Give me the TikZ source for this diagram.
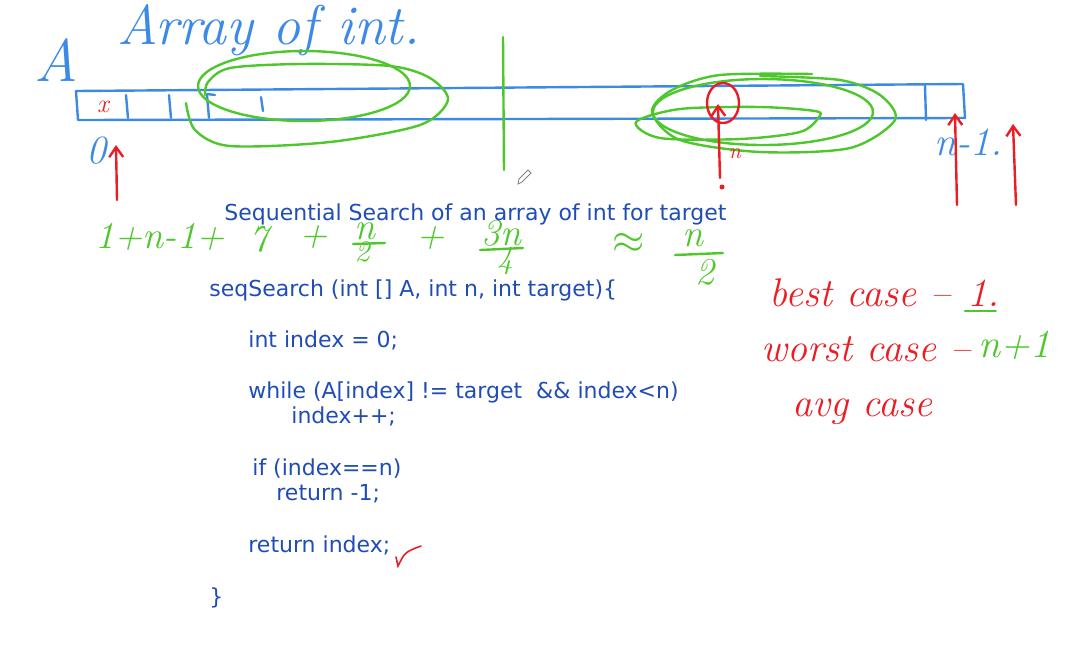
\documentclass[tikz,border=0pt]{standalone}
\usepackage{amsmath}
\usepackage{fontspec}
\newfontfamily\codefont{DejaVu Sans}
\usetikzlibrary{arrows.meta,positioning,calc}
\definecolor{codeblue}{HTML}{1F4DB5}
\definecolor{penblue}{HTML}{3D8AE6}
\definecolor{pengreen}{HTML}{4DC72C}
\definecolor{penred}{HTML}{EC1C24}
\tikzset{
  pen/.style={line width=1.2pt,line cap=round,line join=round},
  code/.style={anchor=base west,inner sep=0pt,text=codeblue,
    font=\codefont\fontsize{11}{13}\selectfont},
  hand/.style={inner sep=0pt,font=\itshape\fontsize{20}{20}\selectfont},
  count/.style={hand,text=pengreen,font=\itshape\fontsize{19}{19}\selectfont},
}

\begin{document}
\begin{tikzpicture}[x=0.5pt,y=-0.5pt,>={Straight Barb[length=5pt,width=7pt]}]
  \useasboundingbox (0,0) rectangle (1078,655);

  % the array A
  \draw[pen,penblue] (76,91) -- (963,84) -- (965,118) -- (78,120) -- cycle;
  \foreach \x in {126,169,207} \draw[pen,penblue] (\x,95) -- (\x+2,118);
  \draw[pen,penblue] (925,85) -- (926,120);
  \draw[pen,penblue] (207,94) -- (215,95);
  \draw[pen,penblue] (261,97) -- (263,111);
  \node[hand,text=penred,font=\itshape\fontsize{13}{13}\selectfont] (x0) at (103,107) {x};
  \node[hand,text=penblue,font=\itshape\fontsize{30}{30}\selectfont] (A) at (56,60) {A};
  \node[hand,text=penblue,anchor=base west,font=\itshape\fontsize{28}{28}\selectfont] (title) at (117,44) {Array of int.};
  \node[hand,text=penblue] (zero) at (96,151) {0};
  \node[hand,text=penblue] (last) at (968,142) {n-1.};

  % middle split
  \draw[pen,pengreen] (503,37) -- (504,170);

  % left loops
  \draw[pen,pengreen] (304,86) ellipse [x radius=106, y radius=35];
  \draw[pen,pengreen] plot[smooth] coordinates {(186,103) (195,130) (230,146) (330,142)
    (420,125) (448,100) (430,78) (390,66) (300,64) (230,68) (208,82) (205,95)};

  % right loops
  \draw[pen,pengreen] plot[smooth cycle] coordinates {(636,122) (680,109) (760,107)
    (815,111) (819,117) (800,132) (740,139) (660,138)};
  \draw[pen,pengreen] (763,112) ellipse [x radius=110, y radius=33];
  \draw[pen,pengreen] plot[smooth] coordinates {(812,74) (720,75) (672,90) (652,112)
    (680,140) (760,152) (850,148) (895,120) (880,95) (840,80) (760,76)};
  \draw[pen,penred] (723,103) ellipse [x radius=16, y radius=20];

  % index arrows
  \coordinate (s0) at (117,200); \coordinate (e0) at (116,145);
  \coordinate (s1) at (720,178); \coordinate (e1) at (718,104);
  \coordinate (s2) at (957,205); \coordinate (e2) at (955,113);
  \coordinate (s3) at (1016,205); \coordinate (e3) at (1013,124);
  \foreach \i in {0,...,3} \draw[pen,penred,->] (s\i) -- (e\i);
  \node[hand,text=penred,font=\itshape\fontsize{11}{11}\selectfont] (mid) at (735,154) {n};
  \fill[penred] (722,187) circle (2.5);

  % pencil cursor
  \draw[gray,line width=0.4pt] (518,184) -- (519,179) -- (528,170) -- (531,173) -- (522,182) -- cycle;

  % green count
  \node[count] (c1) at (160,237) {1+n-1+};
  \node[count] (c2) at (259,239) {7};
  \node[count] (c3) at (314,237) {+};
  \node[count] (f1n) at (365,231) {n};
  \node[count,font=\itshape\fontsize{15}{15}\selectfont] (f1d) at (362,252) {2};
  \draw[pen,pengreen] (353,244) -- (385,243);
  \node[count] (c5) at (431,238) {+};
  \node[count] (f2n) at (501,233) {3n};
  \node[count,font=\itshape\fontsize{16}{16}\selectfont] (f2d) at (505,261) {4};
  \draw[pen,pengreen] (480,250) -- (523,248);
  \node[count,font=\fontsize{20}{20}\selectfont] (c7) at (629,243) {$\approx$};
  \node[count] (f3n) at (693,238) {n};
  \node[count] (f3d) at (705,272) {2};
  \draw[pen,pengreen] (675,255) -- (723,253);

  % cases
  \node[hand,text=penred] (best) at (860,293) {best case --};
  \node[hand,text=penred] (one) [right=8pt of best] {1.};
  \draw[pen,pengreen] ($(one.south west)+(-2,4)$) -- ($(one.south east)+(-4,4)$);
  \node[hand,text=penred] (worst) at (866,349) {worst case --};
  \node[hand,text=pengreen] (nplus) at (1014,345) {n+1};
  \node[hand,text=penred] (avg) at (862,412) {avg case};

  % the code
  \node[code] (head) at (224,220) {Sequential Search of an array of int for target};
  \node[code] (sig) at (209,296) {seqSearch (int [] A, int n, int target)\{};
  \node[code] (init) at (248,347) {int index = 0;};
  \node[code] (loop) at (248,398) {while (A[index] != target\ \ \&\& index<n)};
  \node[code] (step) at (291,423) {index++;};
  \node[code] (test) at (252,475) {if (index==n)};
  \node[code] (fail) at (276,500) {return -1;};
  \node[code] (ret) at (248,552) {return index;};
  \node[code] (close) at (209,604) {\}};
  \draw[penred,line width=0.8pt,line cap=round] (396,557) -- (398,566) .. controls (405,552) .. (421,546);
\end{tikzpicture}
\end{document}
